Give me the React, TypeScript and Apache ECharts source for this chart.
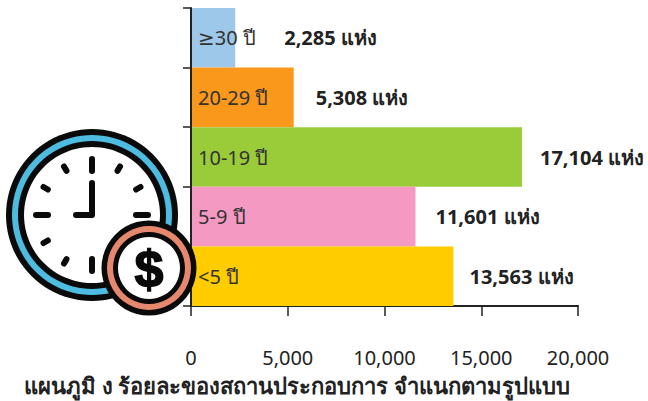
import React, { useEffect, useRef } from "react";
import * as echarts from "echarts";

const categories = ["≥30 ปี", "20-29 ปี", "10-19 ปี", "5-9 ปี", "<5 ปี"];
const values = [2285, 5308, 17104, 11601, 13563];
const barColors = ["#9DC8EA", "#FA981C", "#9ACC3A", "#F49AC2", "#FFCC00"];
const valueLabels = ["2,285 แห่ง", "5,308 แห่ง", "17,104 แห่ง", "11,601 แห่ง", "13,563 แห่ง"];
const labelGaps = [49, 22, 18, 20, 16];
const titleText = "แผนภูมิ ง ร้อยละของสถานประกอบการ จำแนกตามรูปแบบ";
const FONT = "'Noto Sans', 'DejaVu Sans', sans-serif";

const CX = 92, CY = 215;
const clockTicks = [0, 1, 2, 3, 4, 5, 6, 7, 8, 9, 10, 11].map((h) => {
  const a = (h * Math.PI) / 6;
  const inner = h % 3 === 0 ? 44 : 51;
  return {
    type: "line", z: 10, silent: true,
    shape: { x1: CX + inner * Math.sin(a), y1: CY - inner * Math.cos(a), x2: CX + 56 * Math.sin(a), y2: CY - 56 * Math.cos(a) },
    style: { stroke: "#0a0a0a", lineWidth: 6, lineCap: "round" },
  };
});

const ring = (cx: number, cy: number, r: number, fill: string, z: number) => ({
  type: "circle", z, silent: true, shape: { cx, cy, r }, style: { fill },
});

export default function App() {
  const ref = useRef<HTMLDivElement>(null);
  useEffect(() => {
    const chart = echarts.init(ref.current!, null, { renderer: "svg" });
    chart.setOption({
      animation: false,
      backgroundColor: "#fff",
      textStyle: { fontFamily: FONT },
      grid: { left: 191, right: 70, top: 8, bottom: 95, containLabel: false },
      xAxis: {
        type: "value", min: 0, max: 20000, interval: 5000,
        axisLine: { show: true, lineStyle: { color: "#222", width: 2 } },
        axisTick: { show: true, length: 10, lineStyle: { color: "#222", width: 1.5 } },
        splitLine: { show: false },
        axisLabel: {
          margin: 41, color: "#222", fontSize: 20, fontFamily: FONT,
          formatter: (v: number) => v.toLocaleString("en-US"),
        },
      },
      yAxis: {
        type: "category", inverse: true, data: categories, z: 5,
        axisLine: { show: true, lineStyle: { color: "#222", width: 2 } },
        axisTick: { show: true, length: 8, inside: false, lineStyle: { color: "#222", width: 1.5 } },
        axisLabel: { inside: true, margin: 7, color: "#333", fontSize: 20, fontFamily: FONT },
      },
      series: [{
        type: "bar", barWidth: "100%", barCategoryGap: 0,
        data: values.map((value, i) => ({
          value,
          itemStyle: { color: barColors[i] },
          label: {
            show: true, position: "right", distance: labelGaps[i],
            formatter: valueLabels[i], color: "#222", fontSize: 20, fontWeight: "bold", fontFamily: FONT,
          },
        })),
      }],
      graphic: [
        { type: "text", left: 24, top: 374, z: 10, silent: true,
          style: { text: titleText, fill: "#222", fontSize: 22, fontWeight: "bold", fontFamily: FONT } },
        ring(CX, CY, 86, "#0a0a0a", 8),
        ring(CX, CY, 80, "#4DBCE0", 8.1),
        ring(CX, CY, 74, "#0a0a0a", 8.2),
        ring(CX, CY, 68, "#ffffff", 8.3),
        ...clockTicks,
        { type: "polyline", z: 10, silent: true,
          shape: { points: [[CX, CY - 32], [CX, CY], [CX - 16, CY]] },
          style: { stroke: "#0a0a0a", fill: "none", lineWidth: 6, lineCap: "round", lineJoin: "round" } },
        ring(149, 268, 47.5, "#0a0a0a", 11),
        ring(149, 268, 42, "#E5886E", 11.1),
        ring(149, 268, 36, "#0a0a0a", 11.2),
        ring(149, 268, 31, "#ffffff", 11.3),
        { type: "text", z: 12, silent: true, x: 149, y: 269,
          style: { text: "$", fill: "#0a0a0a", stroke: "#0a0a0a", lineWidth: 1.5, fontSize: 52, fontWeight: "bold", fontFamily: "'Liberation Sans', sans-serif", align: "center", verticalAlign: "middle" } },
      ],
    });
    return () => chart.dispose();
  }, []);
  return <div ref={ref} style={{ position: "fixed", left: 0, top: 0, width: 648, height: 401 }} />;
}
